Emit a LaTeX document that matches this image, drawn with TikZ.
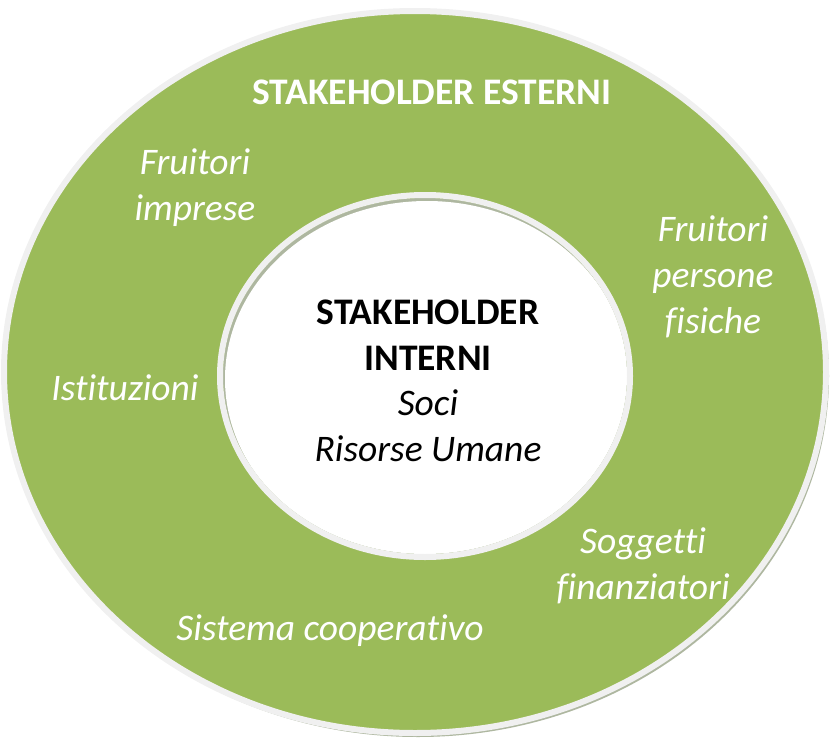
\documentclass[tikz,border=0pt]{standalone}
\usepackage{fontspec}
\setmainfont[Ligatures=NoCommon]{Carlito}
\usetikzlibrary{positioning}

\definecolor{ringgreen}{HTML}{9BBB59}
\definecolor{rimgray}{HTML}{F0F0F0}
\definecolor{shadowgray}{HTML}{AEB7A0}

\begin{document}
\begin{tikzpicture}[
	x=1pt, y=-1pt,
	thick
]
\tikzset{
    outtext/.style = {align=center, text=white, font=\fontsize{37.5}{46}\selectfont\itshape},
    titletext/.style = {align=center, text=white, font=\fontsize{37.5}{46}\selectfont\bfseries},
    intext/.style = {align=center, text=black, font=\fontsize{37.5}{45.5}\selectfont},
    rim/.style = {draw=rimgray, line width=6pt}
}
\useasboundingbox (0,0) rectangle (830,742);
%
% outer ring with its shadow
\fill[shadowgray] (418,376) ellipse [x radius=411, y radius=361];
\draw[rim, fill=ringgreen] (415,372) ellipse [x radius=411, y radius=361];
%
% inner ellipse, shadow inside at top left
\begin{scope}
\clip (425,376) ellipse [x radius=202, y radius=178];
\fill[shadowgray] (425,376) ellipse [x radius=205, y radius=181];
\fill[white] (427,379) ellipse [x radius=202, y radius=178];
\end{scope}
\draw[rim] (425,376) ellipse [x radius=205, y radius=181];
%
\node[titletext] at (432,92) (est) {STAKEHOLDER ESTERNI};
\node[outtext] at (195,188) (imp) {Fruitori\\imprese};
\node[outtext] at (713,277) (fis) {Fruitori\\persone\\fisiche};
\node[outtext] at (125,388) (ist) {Istituzioni};
\node[outtext] at (643,566) (fin) {Soggetti\\finanziatori};
\node[outtext] at (330,631) (coop) {Sistema cooperativo};
%
\node[intext] at (428,381) (int) {\textbf{STAKEHOLDER}\\\textbf{INTERNI}\\\textit{Soci}\\\textit{Risorse Umane}};
\end{tikzpicture}
\end{document}
